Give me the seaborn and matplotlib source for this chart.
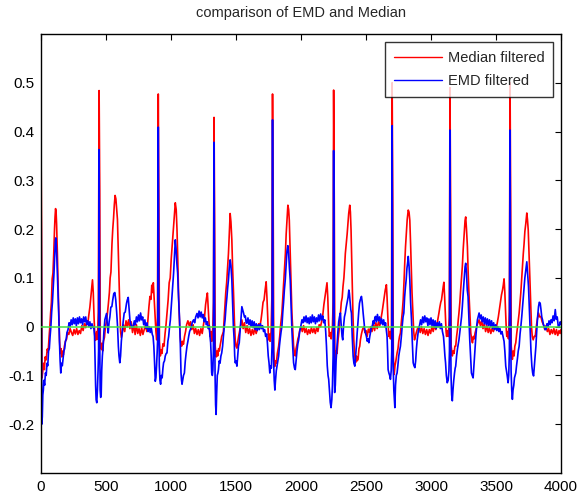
import matplotlib
matplotlib.use("Agg")
import matplotlib.pyplot as plt
import seaborn as sns
import pandas as pd

# Traced vertices (sample index, amplitude) of the two filtered ECG records
median_trace = [
    (0, 0.385), (4, 0.2), (8, -0.105), (14, -0.09), (20, -0.075), (26, -0.088), (32, -0.062), (40, -0.068),
    (48, -0.046), (55, -0.052), (62, -0.022), (68, 0.0), (74, 0.028), (80, 0.05), (86, 0.098), (92, 0.11),
    (98, 0.15), (104, 0.2), (108, 0.225), (112, 0.242), (116, 0.236), (120, 0.21), (126, 0.15), (132, 0.08),
    (138, 0.02), (143, -0.03), (148, -0.055), (154, -0.045), (160, -0.062), (166, -0.05), (172, -0.058),
    (180, -0.04), (188, -0.03), (196, -0.026), (204, -0.012), (214, -0.016), (224, -0.004), (234, -0.012),
    (244, -0.018), (254, -0.006), (264, -0.015), (274, -0.004), (284, -0.016), (294, -0.008), (304, -0.014),
    (314, 0.002), (324, -0.008), (334, 0.006), (344, -0.002), (352, 0.012), (360, 0.006),
    (368, 0.024), (376, 0.04), (384, 0.062), (390, 0.08), (396, 0.096), (402, 0.07), (408, 0.02), (414, -0.018),
    (420, -0.028), (428, -0.01), (434, -0.026), (441, 0.03), (447, 0.484), (452, 0.28), (456, -0.032),
    (462, -0.046), (468, -0.034), (474, -0.05), (480, -0.03), (488, -0.022), (496, 0.0), (504, 0.012),
    (512, 0.03), (518, 0.046), (526, 0.07), (532, 0.1), (538, 0.112), (546, 0.17), (552, 0.2), (558, 0.222),
    (564, 0.25), (570, 0.269), (576, 0.262), (582, 0.24), (588, 0.22), (594, 0.16), (600, 0.096), (606, 0.04),
    (612, -0.01), (618, -0.022), (626, -0.012), (634, 0.004), (644, -0.01), (654, 0.012), (664, 0.0),
    (674, 0.014), (684, -0.004), (694, 0.01), (704, -0.012), (714, 0.006), (724, -0.016), (734, 0.004),
    (744, -0.014), (754, -0.004), (764, -0.018), (774, -0.002), (784, -0.016), (794, -0.006), (804, 0.004),
    (814, -0.01), (822, 0.012), (830, 0.04), (838, 0.062), (846, 0.056), (852, 0.085),
    (858, 0.07), (864, 0.09), (870, 0.06), (877, 0.028), (884, -0.01), (890, -0.027), (896, 0.02),
    (902, 0.477), (907, 0.25), (911, -0.03), (918, -0.06), (924, -0.048), (930, -0.055), (938, -0.035),
    (946, -0.04), (954, -0.015), (962, 0.005), (970, 0.03), (978, 0.055), (986, 0.09), (994, 0.1),
    (1002, 0.14), (1010, 0.17), (1018, 0.2), (1026, 0.23), (1033, 0.254), (1040, 0.24), (1046, 0.2),
    (1052, 0.14), (1058, 0.07), (1064, 0.02), (1070, -0.02), (1076, -0.035), (1082, -0.04), (1088, -0.03),
    (1096, -0.036), (1104, -0.02), (1112, -0.01), (1120, 0.004), (1130, 0.012), (1140, 0.002), (1150, 0.01),
    (1160, -0.006), (1170, 0.004), (1180, -0.014), (1190, -0.004), (1200, -0.016), (1210, -0.006),
    (1220, -0.018), (1230, -0.004), (1240, -0.014), (1250, 0.004), (1258, 0.02), (1266, 0.045), (1274, 0.06),
    (1280, 0.069), (1286, 0.04), (1292, 0.01), (1301, -0.02), (1308, -0.01), (1314, -0.03), (1322, 0.0),
    (1327, 0.05),
    (1331, 0.429), (1336, 0.2), (1340, -0.04), (1348, -0.062), (1354, -0.05), (1359, -0.06), (1366, -0.045),
    (1372, -0.05), (1377, -0.04), (1384, -0.03), (1390, -0.02), (1396, -0.016), (1403, -0.01), (1410, 0.02),
    (1416, 0.045), (1421, 0.069), (1428, 0.09), (1435, 0.12), (1442, 0.15), (1448, 0.19), (1455, 0.232),
    (1461, 0.215), (1468, 0.178), (1474, 0.12), (1481, 0.069), (1488, 0.01), (1494, -0.027), (1500, -0.04),
    (1507, -0.044), (1514, -0.03), (1520, -0.02), (1526, -0.012), (1534, 0.0), (1545, 0.014), (1555, -0.004),
    (1565, 0.008), (1575, -0.012), (1585, 0.002), (1595, -0.014), (1605, -0.004), (1615, -0.018),
    (1625, -0.006), (1635, -0.016), (1645, -0.002), (1655, -0.014), (1665, -0.004), (1675, 0.006),
    (1685, 0.002), (1693, 0.015), (1700, 0.03), (1708, 0.05), (1716, 0.055), (1724, 0.075), (1732, 0.092),
    (1738, 0.06), (1744, 0.02), (1750, -0.027), (1756, -0.015), (1762, -0.03), (1770, -0.01), (1776, 0.06),
    (1781, 0.477), (1786, 0.25), (1790, -0.05), (1797, -0.082), (1803, -0.07), (1810, -0.075), (1818, -0.055),
    (1828, -0.04), (1836, -0.02), (1844, 0.005), (1853, 0.028), (1860, 0.06), (1867, 0.09), (1874, 0.123),
    (1880, 0.15), (1886, 0.19), (1892, 0.218), (1899, 0.249), (1905, 0.24), (1910, 0.218), (1915, 0.17),
    (1920, 0.123), (1925, 0.07), (1930, 0.028), (1937, -0.01), (1943, -0.04), (1950, -0.055), (1956, -0.06),
    (1962, -0.045), (1970, -0.035), (1976, -0.025), (1982, -0.02), (1990, -0.008), (2000, 0.0), (2010, -0.01),
    (2020, 0.002), (2030, -0.012), (2040, -0.004), (2050, -0.016), (2060, -0.006), (2070, -0.014),
    (2080, -0.002), (2090, -0.012), (2100, -0.004), (2110, -0.014), (2120, -0.002), (2130, -0.01),
    (2140, 0.004), (2150, 0.0), (2160, 0.012), (2168, 0.025), (2176, 0.045), (2184, 0.06), (2192, 0.075),
    (2200, 0.09), (2206, 0.06), (2212, 0.01), (2218, -0.02), (2226, -0.012), (2232, -0.025), (2242, 0.0),
    (2247, 0.05),
    (2251, 0.485), (2256, 0.25), (2260, -0.04), (2264, -0.067), (2270, -0.05), (2277, -0.055), (2285, -0.027),
    (2292, -0.01), (2298, 0.01), (2303, 0.028), (2310, 0.05), (2317, 0.06), (2323, 0.082), (2330, 0.1),
    (2336, 0.125), (2341, 0.15), (2348, 0.17), (2355, 0.19), (2361, 0.21), (2367, 0.232), (2375, 0.249),
    (2380, 0.235), (2385, 0.198), (2390, 0.14), (2395, 0.08), (2400, 0.02), (2406, -0.027), (2412, -0.055),
    (2419, -0.074), (2426, -0.06), (2432, -0.07), (2439, -0.067), (2446, -0.045), (2452, -0.04),
    (2457, -0.027), (2465, -0.015), (2474, -0.005), (2483, 0.0), (2492, -0.012), (2500, -0.008),
    (2509, -0.02), (2518, -0.005), (2527, -0.012), (2536, 0.0), (2546, -0.01), (2556, 0.006), (2566, -0.008),
    (2576, 0.008), (2586, -0.004), (2596, 0.01), (2606, 0.002), (2616, 0.018), (2624, 0.03), (2632, 0.045),
    (2640, 0.06), (2648, 0.075), (2657, 0.086), (2662, 0.06), (2668, 0.02), (2675, -0.02), (2682, -0.01),
    (2688, -0.025), (2696, 0.0),
    (2701, 0.5), (2706, 0.25), (2710, -0.06), (2717, -0.098), (2723, -0.08), (2730, -0.07), (2739, -0.054),
    (2746, -0.045), (2752, -0.03), (2758, -0.02), (2765, -0.013), (2772, 0.01), (2779, 0.03), (2786, 0.055),
    (2792, 0.09), (2798, 0.13), (2804, 0.164), (2810, 0.19), (2817, 0.22), (2825, 0.239), (2831, 0.235),
    (2837, 0.218), (2843, 0.17), (2848, 0.123), (2854, 0.07), (2861, 0.028), (2867, -0.01), (2873, -0.027),
    (2880, -0.02), (2886, -0.013), (2896, -0.004), (2907, 0.0), (2917, -0.012), (2927, 0.0), (2937, -0.014),
    (2947, -0.004), (2957, -0.016), (2967, -0.006), (2977, -0.018), (2987, -0.006), (2997, -0.014),
    (3007, 0.0), (3017, -0.01), (3027, 0.004), (3037, -0.006), (3047, 0.006), (3055, 0.018), (3061, 0.028),
    (3068, 0.04), (3075, 0.05), (3081, 0.055), (3088, 0.07), (3094, 0.082), (3099, 0.091), (3105, 0.06),
    (3111, 0.02), (3116, -0.01), (3120, -0.02), (3128, -0.008), (3134, -0.02), (3141, 0.02),
    (3146, 0.49), (3151, 0.25), (3155, -0.04), (3164, -0.06), (3170, -0.05), (3177, -0.055), (3184, -0.04),
    (3190, -0.04), (3197, -0.02), (3204, -0.005), (3210, 0.015), (3215, 0.028), (3222, 0.05), (3228, 0.075),
    (3235, 0.1), (3241, 0.123), (3248, 0.16), (3255, 0.19), (3262, 0.218), (3267, 0.225), (3273, 0.2),
    (3280, 0.164), (3286, 0.11), (3293, 0.062), (3300, 0.02), (3306, -0.013), (3312, -0.025), (3319, -0.033),
    (3326, -0.02), (3332, -0.025), (3339, -0.013), (3348, -0.004), (3358, 0.006), (3370, 0.014),
    (3380, 0.002), (3390, 0.012), (3400, -0.004), (3410, 0.006), (3420, -0.01), (3430, 0.002), (3440, -0.012),
    (3450, -0.002), (3460, -0.014), (3470, -0.004), (3480, -0.01), (3490, 0.002), (3500, -0.004),
    (3510, 0.008), (3518, 0.02), (3526, 0.035), (3534, 0.05), (3542, 0.065), (3550, 0.075), (3556, 0.085),
    (3562, 0.098), (3568, 0.07), (3574, 0.03), (3579, -0.005), (3583, -0.02), (3590, -0.01), (3596, -0.025),
    (3603, 0.03),
    (3608, 0.5), (3613, 0.25), (3617, -0.04), (3626, -0.067), (3632, -0.05), (3639, -0.06), (3645, -0.04),
    (3652, -0.033), (3659, -0.015), (3666, 0.0), (3672, 0.015), (3678, 0.028), (3685, 0.05), (3691, 0.07),
    (3698, 0.1), (3704, 0.123), (3710, 0.15), (3716, 0.17), (3722, 0.195), (3729, 0.211), (3737, 0.233),
    (3742, 0.22), (3748, 0.198), (3754, 0.15), (3761, 0.096), (3767, 0.045), (3773, 0.0), (3779, -0.02),
    (3786, -0.027), (3794, -0.02), (3802, -0.02), (3810, 0.0), (3818, 0.015), (3827, 0.028), (3835, 0.02),
    (3845, 0.021), (3855, 0.01), (3865, 0.004), (3875, -0.006), (3885, 0.002), (3895, -0.01), (3905, -0.004),
    (3915, -0.016), (3925, -0.006), (3935, -0.014), (3945, -0.004), (3955, -0.016), (3965, -0.006),
    (3975, -0.018), (3985, -0.008), (3993, -0.014), (4000, -0.006),
]

emd_trace = [
    (0, 0.33), (3, 0.1), (6, -0.2), (10, -0.185), (14, -0.14), (18, -0.13), (22, -0.11), (28, -0.12),
    (34, -0.095), (40, -0.1), (46, -0.075), (52, -0.08), (58, -0.05), (64, -0.045), (70, -0.02), (76, 0.0),
    (82, 0.03), (88, 0.05), (94, 0.08), (100, 0.11), (106, 0.15), (110, 0.175), (114, 0.182), (118, 0.165),
    (122, 0.14), (127, 0.1), (132, 0.06), (137, 0.02), (142, -0.03), (147, -0.07), (152, -0.095),
    (158, -0.075), (164, -0.08), (170, -0.065), (176, -0.05), (182, -0.045), (188, -0.03), (194, -0.025),
    (200, -0.012), (208, -0.006), (216, 0.008), (224, 0.0), (232, 0.014), (240, 0.004), (248, 0.018),
    (256, 0.006), (264, 0.016), (272, 0.002), (280, 0.018), (288, 0.006), (296, 0.02), (304, 0.008),
    (312, 0.016), (320, 0.004), (328, 0.02), (336, 0.01), (344, 0.02), (352, 0.004), (360, 0.012),
    (368, 0.0), (376, 0.01), (384, -0.004), (392, 0.006), (400, -0.002),
    (406, 0.0), (412, -0.02), (416, -0.07), (420, -0.12), (424, -0.15), (429, -0.156), (434, -0.13),
    (439, -0.09), (443, -0.05), (447, 0.363), (451, 0.0), (455, -0.13), (459, -0.145), (463, -0.14),
    (467, -0.09), (472, -0.06), (478, -0.04), (484, -0.01), (491, 0.014), (497, 0.02), (504, 0.027),
    (510, 0.005), (517, -0.013), (524, 0.01), (530, 0.02), (537, 0.04), (545, 0.041), (552, 0.055),
    (560, 0.068), (568, 0.07), (575, 0.055), (582, 0.03), (589, 0.0), (595, -0.04), (600, -0.06),
    (606, -0.074), (612, -0.06), (618, -0.03), (625, -0.01), (632, 0.01), (640, 0.028), (648, 0.03),
    (658, 0.048), (664, 0.055), (671, 0.06), (677, 0.04), (684, 0.014), (692, 0.004), (700, -0.002),
    (709, 0.0), (718, 0.012), (726, 0.004), (734, 0.02), (742, 0.01), (750, 0.024), (758, 0.012),
    (766, 0.028), (774, 0.014), (782, 0.02), (790, 0.004), (799, 0.014), (808, -0.004), (816, 0.008),
    (824, -0.01), (832, 0.0), (840, -0.012), (848, -0.002), (856, -0.016), (862, -0.02), (868, -0.04),
    (873, -0.07), (879, -0.112), (884, -0.105), (889, -0.08), (894, -0.05), (898, -0.02),
    (902, 0.409), (906, 0.05), (910, -0.08), (915, -0.11), (920, -0.118), (926, -0.1), (932, -0.105),
    (938, -0.085), (943, -0.074), (950, -0.07), (956, -0.06), (963, -0.055), (969, -0.054), (976, -0.03),
    (982, -0.02), (989, 0.0), (995, 0.014), (1002, 0.04), (1008, 0.06), (1014, 0.085), (1020, 0.11),
    (1026, 0.14), (1033, 0.178), (1039, 0.16), (1045, 0.13), (1051, 0.11), (1058, 0.06), (1066, 0.014),
    (1072, -0.04), (1077, -0.095), (1081, -0.11), (1085, -0.118), (1090, -0.11), (1096, -0.1),
    (1103, -0.095), (1110, -0.07), (1116, -0.055), (1123, -0.04), (1130, -0.03), (1136, -0.02),
    (1143, -0.01), (1149, -0.006), (1156, 0.0), (1165, 0.01), (1174, 0.014), (1182, 0.008), (1190, 0.02),
    (1200, 0.027), (1208, 0.018), (1216, 0.032), (1224, 0.02), (1232, 0.03), (1240, 0.018), (1248, 0.025),
    (1256, 0.01), (1264, 0.018), (1272, 0.004), (1280, 0.01), (1287, -0.004), (1294, 0.002), (1300, -0.02),
    (1305, -0.033), (1309, -0.06), (1313, -0.095), (1318, -0.1), (1322, -0.09), (1326, -0.05),
    (1331, 0.378), (1335, 0.05), (1339, -0.1), (1343, -0.16), (1347, -0.18), (1351, -0.14), (1356, -0.1),
    (1361, -0.095), (1365, -0.088), (1371, -0.07), (1377, -0.075), (1384, -0.06), (1390, -0.054),
    (1397, -0.04), (1403, -0.02), (1410, 0.0), (1416, 0.014), (1423, 0.04), (1430, 0.06), (1436, 0.08),
    (1442, 0.096), (1448, 0.12), (1455, 0.137), (1461, 0.125), (1468, 0.096), (1474, 0.05), (1480, 0.0),
    (1486, -0.027), (1490, -0.06), (1494, -0.074), (1500, -0.07), (1507, -0.081), (1513, -0.06),
    (1519, -0.04), (1525, -0.033), (1531, -0.01), (1538, 0.015), (1545, 0.041), (1551, 0.035),
    (1558, 0.028), (1565, 0.02), (1572, 0.022), (1578, 0.008), (1584, 0.007), (1592, 0.018), (1600, 0.004),
    (1608, 0.014), (1616, 0.0), (1624, 0.012), (1632, -0.002), (1640, 0.01), (1648, -0.006), (1656, 0.006),
    (1664, -0.008), (1672, 0.004), (1680, -0.006), (1688, 0.006), (1696, -0.004), (1704, 0.002),
    (1712, -0.01), (1720, -0.006), (1728, -0.02), (1736, -0.015), (1742, -0.035), (1748, -0.06),
    (1754, -0.074), (1760, -0.095), (1766, -0.08), (1772, -0.085), (1777, -0.04),
    (1781, 0.424), (1785, 0.05), (1789, -0.07), (1794, -0.11), (1799, -0.13), (1804, -0.11), (1810, -0.09),
    (1816, -0.08), (1822, -0.07), (1828, -0.06), (1834, -0.04), (1840, -0.025), (1847, -0.01), (1853, 0.0),
    (1860, 0.03), (1866, 0.05), (1872, 0.075), (1879, 0.096), (1886, 0.13), (1892, 0.155), (1899, 0.166),
    (1905, 0.15), (1911, 0.12), (1917, 0.096), (1923, 0.05), (1930, -0.006), (1936, -0.04), (1943, -0.074),
    (1950, -0.085), (1956, -0.088), (1962, -0.07), (1969, -0.05), (1976, -0.035), (1982, -0.027),
    (1990, -0.01), (1998, 0.0), (2007, 0.014), (2015, 0.008), (2023, 0.02), (2031, 0.01), (2039, 0.022),
    (2047, 0.008), (2055, 0.018), (2063, 0.006), (2071, 0.02), (2079, 0.008), (2087, 0.024), (2095, 0.01),
    (2103, 0.02), (2111, 0.006), (2119, 0.018), (2127, 0.01), (2135, 0.024), (2143, 0.012), (2151, 0.026),
    (2159, 0.014), (2167, 0.022), (2175, 0.008), (2183, 0.014), (2190, -0.01), (2196, -0.04), (2202, -0.08),
    (2208, -0.1), (2213, -0.108), (2219, -0.13), (2225, -0.155), (2231, -0.166), (2237, -0.15),
    (2242, -0.12), (2247, -0.06),
    (2251, 0.361), (2255, 0.0), (2259, -0.135), (2264, -0.12), (2270, -0.07), (2277, -0.04), (2284, -0.01),
    (2290, 0.01), (2296, 0.02), (2303, 0.028), (2310, 0.0), (2316, -0.02), (2321, -0.027), (2327, 0.0),
    (2334, 0.02), (2341, 0.028), (2348, 0.04), (2355, 0.05), (2362, 0.06), (2368, 0.075), (2372, 0.069),
    (2378, 0.05), (2383, 0.035), (2388, 0.028), (2394, -0.02), (2401, -0.06), (2407, -0.075), (2414, -0.081),
    (2420, -0.06), (2426, -0.04), (2432, -0.013), (2438, 0.01), (2444, 0.03), (2450, 0.048), (2456, 0.055),
    (2465, 0.062), (2471, 0.05), (2478, 0.028), (2485, 0.01), (2490, -0.005), (2496, -0.013), (2503, -0.02),
    (2510, -0.03), (2516, -0.025), (2522, -0.033), (2529, -0.02), (2536, -0.01), (2542, 0.0), (2548, 0.0),
    (2555, 0.012), (2562, 0.006), (2568, 0.018), (2573, 0.021), (2580, 0.01), (2588, 0.025), (2596, 0.012),
    (2604, 0.02), (2612, 0.006), (2620, 0.016), (2628, 0.004), (2636, 0.014), (2644, 0.0), (2650, 0.008),
    (2656, -0.006), (2662, -0.02), (2666, -0.05), (2670, -0.088), (2676, -0.095), (2682, -0.1),
    (2688, -0.108), (2694, -0.09), (2698, -0.05),
    (2701, 0.412), (2705, 0.05), (2709, -0.08), (2714, -0.13), (2718, -0.15), (2722, -0.166), (2727, -0.12),
    (2733, -0.1), (2739, -0.095), (2745, -0.08), (2752, -0.06), (2758, -0.05), (2765, -0.04), (2772, -0.02),
    (2778, 0.0), (2785, 0.02), (2791, 0.028), (2797, 0.06), (2803, 0.08), (2809, 0.096), (2815, 0.12),
    (2820, 0.13), (2825, 0.144), (2831, 0.125), (2837, 0.096), (2843, 0.05), (2850, 0.014), (2856, -0.03),
    (2863, -0.074), (2869, -0.08), (2876, -0.084), (2882, -0.07), (2888, -0.045), (2894, -0.027),
    (2902, -0.01), (2910, 0.0), (2920, 0.014), (2928, 0.004), (2936, 0.02), (2944, 0.008), (2952, 0.022),
    (2960, 0.01), (2968, 0.018), (2976, 0.002), (2984, 0.016), (2992, 0.004), (3000, 0.018), (3008, 0.002),
    (3016, 0.014), (3024, 0.0), (3032, 0.012), (3040, -0.004), (3048, 0.008), (3056, 0.0), (3064, 0.01),
    (3072, -0.004), (3080, 0.006), (3088, -0.01), (3096, -0.02), (3102, -0.04), (3107, -0.06),
    (3112, -0.074), (3118, -0.1), (3125, -0.115), (3132, -0.11), (3138, -0.09), (3142, -0.05),
    (3146, 0.403), (3150, 0.05), (3154, -0.1), (3159, -0.14), (3164, -0.152), (3169, -0.13), (3175, -0.11),
    (3181, -0.095), (3186, -0.085), (3190, -0.081), (3197, -0.06), (3204, -0.045), (3210, -0.035),
    (3215, -0.027), (3222, -0.01), (3228, 0.005), (3235, 0.02), (3241, 0.041), (3248, 0.07), (3255, 0.095),
    (3262, 0.123), (3267, 0.13), (3273, 0.11), (3279, 0.075), (3285, 0.062), (3291, 0.02), (3298, -0.027),
    (3304, -0.06), (3311, -0.095), (3317, -0.1), (3324, -0.105), (3330, -0.08), (3335, -0.06), (3339, -0.04),
    (3345, -0.02), (3351, 0.0), (3357, 0.014), (3364, 0.022), (3370, 0.028), (3378, 0.016), (3386, 0.024),
    (3394, 0.01), (3402, 0.02), (3410, 0.006), (3418, 0.018), (3426, 0.004), (3434, 0.016), (3442, 0.002),
    (3450, 0.014), (3458, 0.0), (3466, 0.012), (3474, -0.004), (3482, 0.008), (3490, -0.006), (3498, 0.004),
    (3506, -0.008), (3514, 0.0), (3522, -0.01), (3530, -0.004), (3538, -0.015), (3546, -0.01), (3554, -0.02),
    (3562, -0.03), (3568, -0.05), (3575, -0.081), (3580, -0.09), (3586, -0.1), (3593, -0.115), (3598, -0.1),
    (3603, -0.05),
    (3608, 0.403), (3612, 0.05), (3616, -0.09), (3621, -0.13), (3626, -0.149), (3631, -0.13), (3637, -0.12),
    (3642, -0.105), (3647, -0.1), (3652, -0.095), (3658, -0.08), (3665, -0.065), (3671, -0.05), (3678, -0.04),
    (3685, -0.015), (3691, 0.0), (3698, 0.02), (3704, 0.041), (3710, 0.06), (3716, 0.08), (3722, 0.1),
    (3729, 0.116), (3737, 0.133), (3743, 0.11), (3750, 0.082), (3756, 0.04), (3763, -0.013), (3769, -0.05),
    (3776, -0.081), (3782, -0.095), (3789, -0.101), (3795, -0.08), (3801, -0.06), (3807, -0.04), (3813, -0.01),
    (3820, 0.02), (3827, 0.041), (3833, 0.05), (3840, 0.048), (3846, 0.035), (3852, 0.02), (3858, 0.014),
    (3865, 0.004), (3872, 0.0), (3878, -0.006), (3884, -0.006), (3892, 0.006), (3900, 0.0), (3908, 0.012),
    (3916, 0.004), (3923, 0.014), (3931, 0.008), (3939, 0.022), (3947, 0.012), (3956, 0.035), (3963, 0.015),
    (3971, 0.02), (3979, 0.0), (3987, 0.0), (3994, 0.01), (4000, 0.005),
]

series_labels = ["Median filtered", "EMD filtered"]
series_colors = ["#ff0000", "#0000ff"]
x_ticks = [0, 500, 1000, 1500, 2000, 2500, 3000, 3500, 4000]
y_ticks = [-0.2, -0.1, 0.0, 0.1, 0.2, 0.3, 0.4, 0.5]
y_tick_labels = ["-0.2", "-0.1", "0", "0.1", "0.2", "0.3", "0.4", "0.5"]
title_text = "comparison of EMD and Median"

sns.set_theme(style="white")
plt.rcParams["font.family"] = ["Liberation Sans", "DejaVu Sans"]

frames = []
for label, trace in zip(series_labels, [median_trace, emd_trace]):
    df = pd.DataFrame(trace, columns=["sample", "amplitude"])
    df["series"] = label
    frames.append(df)
data = pd.concat(frames, ignore_index=True)

fig = plt.figure(figsize=(5.78, 4.97), dpi=100)
ax = fig.add_axes([41 / 578, 1 - 473 / 497, 520 / 578, 439 / 497])

sns.lineplot(data=data, x="sample", y="amplitude", hue="series", hue_order=series_labels,
             palette=series_colors, estimator=None, sort=False, linewidth=1.2, ax=ax)
ax.axhline(0, color="#44e044", linewidth=1.1, zorder=5)

ax.set_xlim(0, 4000)
ax.set_ylim(-0.3, 0.6)
ax.set_xticks(x_ticks)
ax.set_xticklabels([str(t) for t in x_ticks])
ax.set_yticks(y_ticks)
ax.set_yticklabels(y_tick_labels)
ax.set_xlabel("")
ax.set_ylabel("")
ax.set_title(title_text, fontsize=10.5, pad=12)

ax.tick_params(direction="in", length=4, width=0.8, colors="black", labelsize=11,
               top=True, right=True, labeltop=False, labelright=False, pad=5)
for spine in ax.spines.values():
    spine.set_visible(True)
    spine.set_color("black")
    spine.set_linewidth(1.0)

leg = ax.legend(loc="upper right", bbox_to_anchor=(0.985, 0.982), borderaxespad=0,
                fontsize=10.5, frameon=True, fancybox=False, handlelength=3.3,
                handletextpad=0.4, borderpad=0.6, labelspacing=0.65)
leg.get_frame().set_edgecolor("black")
leg.get_frame().set_linewidth(1.0)
for line in leg.get_lines():
    line.set_linewidth(1.0)
leg.set_zorder(10)

fig.savefig("out.png", dpi=100, facecolor="white")
